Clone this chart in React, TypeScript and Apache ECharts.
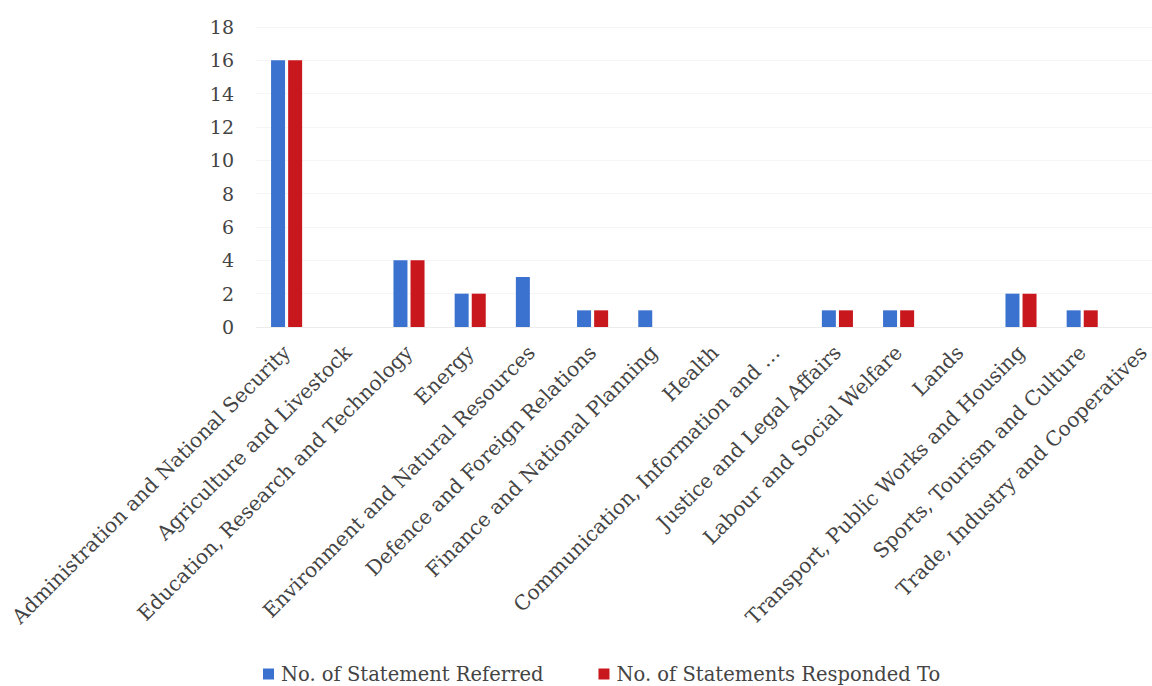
import React, { useEffect, useRef } from "react";
import * as echarts from "echarts";

const categories = [
  "Administration and National Security",
  "Agriculture and Livestock",
  "Education, Research and Technology",
  "Energy",
  "Environment and Natural Resources",
  "Defence and Foreign Relations",
  "Finance and National Planning",
  "Health",
  "Communication, Information and …",
  "Justice and Legal Affairs",
  "Labour and Social Welfare",
  "Lands",
  "Transport, Public Works and Housing",
  "Sports, Tourism and Culture",
  "Trade, Industry and Cooperatives",
];
const referred = [16, 0, 4, 2, 3, 1, 1, 0, 0, 1, 1, 0, 2, 1, 0];
const responded = [16, 0, 4, 2, 0, 1, 0, 0, 0, 1, 1, 0, 2, 1, 0];
const seriesNames = ["No. of Statement Referred", "No. of Statements Responded To"];

export default function App() {
  const ref = useRef<HTMLDivElement>(null);
  useEffect(() => {
    if (!ref.current) return;
    const chart = echarts.init(ref.current, null, { renderer: "svg" });
    chart.setOption({
      animation: false,
      backgroundColor: "#ffffff",
      grid: { left: 256, right: 0, top: 27, bottom: 359, containLabel: false },
      legend: {
        top: 663,
        left: 263,
        padding: 0,
        itemWidth: 11,
        itemHeight: 11,
        itemGap: 55,
        icon: "rect",
        textStyle: {
          fontFamily: "DejaVu Serif",
          fontSize: 19.5,
          lineHeight: 22,
          color: "#444",
          padding: [0, 0, 0, 2],
        },
        data: seriesNames,
      },
      xAxis: {
        type: "category",
        data: categories,
        axisTick: { show: false },
        axisLine: { lineStyle: { color: "#ececec" } },
        axisLabel: {
          interval: 0,
          rotate: 45,
          margin: 22,
          fontFamily: "DejaVu Serif",
          fontSize: 20.2,
          color: "#444",
        },
      },
      yAxis: {
        type: "value",
        min: 0,
        max: 18,
        interval: 2,
        axisLine: { show: false },
        axisTick: { show: false },
        splitLine: { lineStyle: { color: "#f5f5f5" } },
        axisLabel: {
          margin: 22,
          fontFamily: "DejaVu Serif",
          fontSize: 19,
          color: "#444",
        },
      },
      series: [
        {
          name: seriesNames[0],
          type: "bar",
          data: referred,
          barWidth: 14,
          barGap: "22%",
          itemStyle: { color: "#3b72cf" },
        },
        {
          name: seriesNames[1],
          type: "bar",
          data: responded,
          barWidth: 14,
          itemStyle: { color: "#c8181e" },
        },
      ],
    });
    return () => chart.dispose();
  }, []);
  return (
    <div
      style={{
        position: "fixed",
        left: 0,
        top: 0,
        width: 1152,
        height: 686,
        overflow: "hidden",
        background: "#fff",
      }}
    >
      <div ref={ref} style={{ width: 1174, height: 686 }} />
    </div>
  );
}
